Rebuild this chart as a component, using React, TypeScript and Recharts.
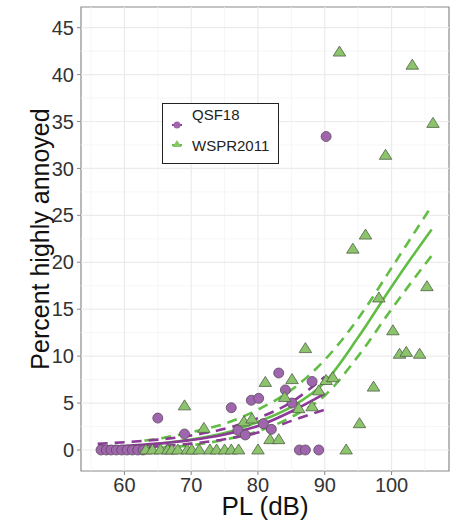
import React from "react";
import {
  ComposedChart,
  Scatter,
  Line,
  XAxis,
  YAxis,
  ReferenceLine,
  ReferenceArea,
} from "recharts";

// QSF18 survey points (PL dB, % highly annoyed)
const qsfX = [56.5, 57.3, 58.0, 58.8, 59.6, 60.4, 61.2, 62.0, 62.8, 65.0, 69.0, 76.0, 77.0, 78.1, 79.0, 80.1, 80.8, 82.0, 83.1, 84.1, 85.1, 86.2, 87.1, 88.1, 89.1, 90.2];
const qsfY = [0, 0, 0, 0, 0, 0, 0, 0, 0, 3.4, 1.7, 4.5, 2.1, 1.6, 5.3, 5.5, 2.8, 2.2, 8.2, 6.4, 5.0, 0, 0, 7.3, 0, 33.4];

// WSPR2011 survey points
const wsprX = [63.2, 64.2, 65.4, 66.5, 67.1, 68.0, 69.4, 70.1, 71.2, 72.8, 73.8, 75.0, 76.0, 77.1, 80.0, 93.2, 69.0, 71.9, 77.9, 79.1, 81.1, 81.8, 83.1, 84.0, 85.1, 86.1, 87.1, 88.1, 89.1, 90.2, 91.2, 92.2, 94.2, 95.2, 96.1, 97.3, 98.1, 99.1, 100.2, 101.2, 102.2, 103.1, 104.2, 105.3, 106.2];
const wsprY = [0, 0, 0, 0, 0, 0, 0, 0, 0, 0, 0, 0, 0, 0, 0, 0, 4.7, 2.3, 3.0, 3.3, 7.2, 1.1, 1.1, 5.6, 7.5, 4.4, 10.8, 4.6, 6.3, 7.4, 7.7, 42.4, 21.4, 2.8, 22.9, 6.7, 16.2, 31.4, 12.7, 10.2, 10.4, 41.0, 10.2, 17.4, 34.8];

// fitted curves with confidence bounds
const qsfFitX = [56, 60, 65, 70, 75, 80, 85, 90];
const qsfFit = [0.3, 0.43, 0.68, 1.06, 1.65, 2.55, 4.1, 6.0];
const qsfHi = [0.65, 0.82, 1.1, 1.55, 2.25, 3.4, 5.1, 7.8];
const qsfLo = [0.12, 0.2, 0.38, 0.68, 1.15, 1.85, 3.1, 4.3];

const wsprFitX = [63, 65, 70, 75, 80, 85, 90, 95, 100, 103, 106];
const wsprFit = [0.5, 0.65, 1.1, 1.8, 3.0, 4.6, 7.2, 12.0, 17.4, 20.5, 23.5];
const wsprHi = [1.0, 1.2, 1.9, 2.8, 4.3, 6.4, 9.6, 14.0, 19.4, 22.7, 26.0];
const wsprLo = [0.2, 0.25, 0.5, 1.1, 2.0, 3.5, 5.8, 10.0, 15.0, 17.9, 20.7];

const xTicks = [60, 70, 80, 90, 100];
const xMinor = [55, 65, 75, 85, 95, 105];
const yTicks = [0, 5, 10, 15, 20, 25, 30, 35, 40, 45];
const yMinor = [2.5, 7.5, 12.5, 17.5, 22.5, 27.5, 32.5, 37.5, 42.5];

const X_DOM: [number, number] = [53.5, 108.6];
const Y_DOM: [number, number] = [-2.24, 47.2];

const PURPLE_FILL = "#a066ad";
const PURPLE_LINE = "#8b3a96";
const GREEN_FILL = "#8cc46c";
const GREEN_LINE = "#62bd45";
const FONT = "'Liberation Sans', Arial, sans-serif";

const qsfPts = qsfX.map((x, i) => ({ x, y: qsfY[i] }));
const wsprPts = wsprX.map((x, i) => ({ x, y: wsprY[i] }));
const qsfLines = qsfFitX.map((x, i) => ({ x, fit: qsfFit[i], hi: qsfHi[i], lo: qsfLo[i] }));
const wsprLines = wsprFitX.map((x, i) => ({ x, fit: wsprFit[i], hi: wsprHi[i], lo: wsprLo[i] }));

const Dot = (props: any) => {
  const { cx, cy } = props;
  return <circle cx={cx} cy={cy} r={5} fill={PURPLE_FILL} stroke="#5a4a5c" strokeWidth={0.8} />;
};

const Tri = (props: any) => {
  const { cx, cy } = props;
  const h = 10;
  const w = 12.5;
  const pts = `${cx},${cy - h * 0.6} ${cx - w / 2},${cy + h * 0.4} ${cx + w / 2},${cy + h * 0.4}`;
  return <polygon points={pts} fill={GREEN_FILL} stroke="#4f5f47" strokeWidth={0.8} />;
};

const YTitle = (props: any) => {
  const { viewBox } = props;
  const cy = viewBox.y + viewBox.height / 2;
  return (
    <text
      x={49}
      y={cy}
      transform={`rotate(-90, 49, ${cy})`}
      textAnchor="middle"
      fontSize={25}
      fill="#111"
      fontFamily={FONT}
    >
      Percent highly annoyed
    </text>
  );
};

const XTitle = (props: any) => {
  const { viewBox } = props;
  const cx = viewBox.x + viewBox.width / 2;
  return (
    <text x={cx} y={515} textAnchor="middle" fontSize={26} fill="#111" fontFamily={FONT}>
      PL (dB)
    </text>
  );
};

const tickStyle = { fontSize: 20, fill: "#333", fontFamily: FONT };

export default function App() {
  return (
    <div style={{ position: "absolute", left: 0, top: 0, width: 456, height: 523, background: "#fff" }}>
      <ComposedChart width={456} height={523} margin={{ top: 7, right: 7, bottom: 0, left: 0 }}>
        <XAxis
          type="number"
          dataKey="x"
          domain={X_DOM}
          allowDataOverflow
          ticks={xTicks}
          height={52}
          tickSize={4}
          tickMargin={3}
          axisLine={false}
          tickLine={{ stroke: "#888" }}
          tick={tickStyle}
          label={<XTitle />}
        />
        <YAxis
          type="number"
          domain={Y_DOM}
          allowDataOverflow
          ticks={yTicks}
          width={81}
          tickSize={4}
          tickMargin={3}
          axisLine={false}
          tickLine={{ stroke: "#888" }}
          tick={tickStyle}
          label={<YTitle />}
        />
        {xMinor.map((v) => (
          <ReferenceLine key={`xm${v}`} x={v} stroke="#f4f4f4" strokeWidth={0.8} />
        ))}
        {yMinor.map((v) => (
          <ReferenceLine key={`ym${v}`} y={v} stroke="#f4f4f4" strokeWidth={0.8} />
        ))}
        {xTicks.map((v) => (
          <ReferenceLine key={`xM${v}`} x={v} stroke="#ebebeb" strokeWidth={1.2} />
        ))}
        {yTicks.map((v) => (
          <ReferenceLine key={`yM${v}`} y={v} stroke="#ebebeb" strokeWidth={1.2} />
        ))}
        <ReferenceArea
          x1={X_DOM[0]}
          x2={X_DOM[1]}
          y1={Y_DOM[0]}
          y2={Y_DOM[1]}
          fill="none"
          stroke="#8a8a8a"
          strokeWidth={1.2}
          fillOpacity={0}
        />
        <Scatter data={qsfPts} dataKey="y" shape={<Dot />} isAnimationActive={false} />
        <Scatter data={wsprPts} dataKey="y" shape={<Tri />} isAnimationActive={false} />
        <Line data={wsprLines} dataKey="fit" type="monotone" stroke={GREEN_LINE} strokeWidth={2.6} dot={false} isAnimationActive={false} />
        <Line data={wsprLines} dataKey="hi" type="monotone" stroke={GREEN_LINE} strokeWidth={2.6} strokeDasharray="10 7" dot={false} isAnimationActive={false} />
        <Line data={wsprLines} dataKey="lo" type="monotone" stroke={GREEN_LINE} strokeWidth={2.6} strokeDasharray="10 7" dot={false} isAnimationActive={false} />
        <Line data={qsfLines} dataKey="fit" type="monotone" stroke={PURPLE_LINE} strokeWidth={2.6} dot={false} isAnimationActive={false} />
        <Line data={qsfLines} dataKey="hi" type="monotone" stroke={PURPLE_LINE} strokeWidth={2.6} strokeDasharray="10 7" dot={false} isAnimationActive={false} />
        <Line data={qsfLines} dataKey="lo" type="monotone" stroke={PURPLE_LINE} strokeWidth={2.6} strokeDasharray="10 7" dot={false} isAnimationActive={false} />
      </ComposedChart>
      <div
        style={{
          position: "absolute",
          left: 162,
          top: 103,
          width: 115,
          height: 59,
          border: "1px solid #222",
          background: "#fff",
          fontFamily: FONT,
          fontSize: 15,
          color: "#222",
        }}
      >
        <svg width={20} height={59} style={{ position: "absolute", left: 6, top: 0 }}>
          <line x1={3} y1={21} x2={13} y2={21} stroke={PURPLE_LINE} strokeWidth={2} />
          <circle cx={8} cy={21} r={3.5} fill={PURPLE_FILL} />
          <line x1={3} y1={41} x2={13} y2={41} stroke={GREEN_LINE} strokeWidth={2} />
          <polygon points="8,36 3.5,43 12.5,43" fill={GREEN_FILL} />
        </svg>
        <div style={{ position: "absolute", left: 29, top: 2 }}>QSF18</div>
        <div style={{ position: "absolute", left: 29, top: 33 }}>WSPR2011</div>
      </div>
    </div>
  );
}
